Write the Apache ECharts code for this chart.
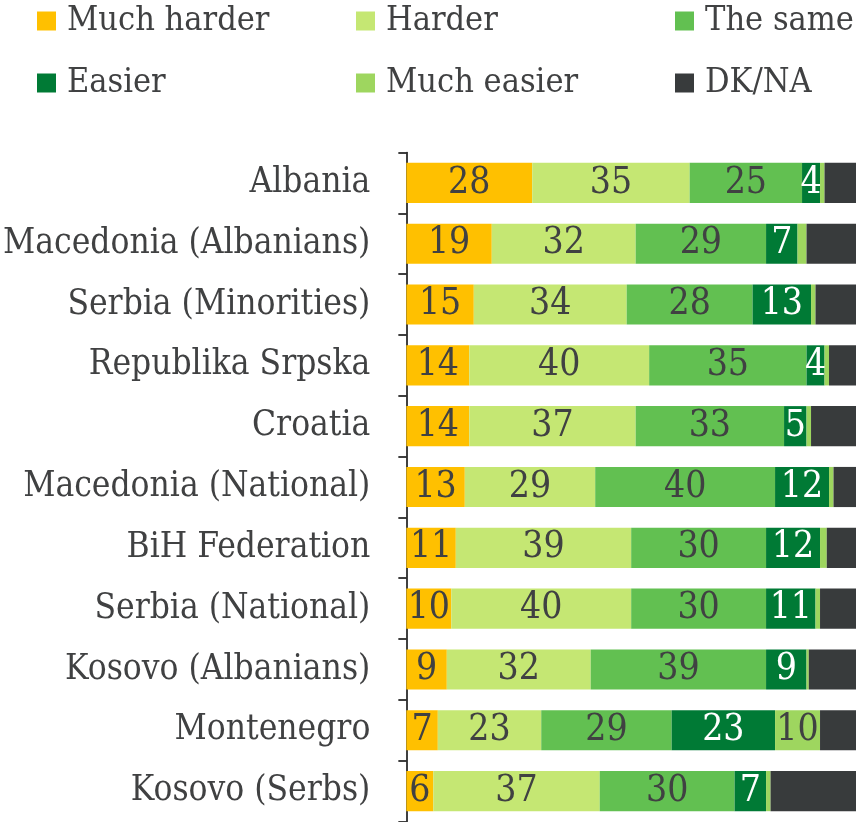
<!DOCTYPE html>
<html>
<head>
<meta charset="utf-8">
<script src="https://cdn.jsdelivr.net/npm/echarts@6/dist/echarts.min.js"></script>
<style>
html,body{margin:0;padding:0;background:#fff;}
#chart{width:856px;height:822px;}
</style>
</head>
<body>
<div id="chart"></div>
<script>
const categories = ["Albania","Macedonia (Albanians)","Serbia (Minorities)","Republika Srpska","Croatia","Macedonia (National)","BiH Federation","Serbia (National)","Kosovo (Albanians)","Montenegro","Kosovo (Serbs)"];
const muchHarder = [28,19,15,14,14,13,11,10,9,7,6];
const harder     = [35,32,34,40,37,29,39,40,32,23,37];
const theSame    = [25,29,28,35,33,40,30,30,39,29,30];
const easier     = [4,7,13,4,5,12,12,11,9,23,7];
const muchEasier = [1,2,1,1,1,1,1.5,1,0.5,10,1];
const dkna       = [7,11,9,6,10,5,7,8,10.5,8,19];

const FONT = "'DejaVu Serif Condensed','DejaVu Serif',serif";
const TXT = '#404142';

function ser(name, data, color, labelColor, showLabel){
  return {
    name: name, type: 'bar', stack: 'all', data: data,
    barCategoryGap: '34%',
    itemStyle: {color: color},
    label: {
      show: showLabel, position: 'inside', color: labelColor,
      fontFamily: FONT, fontSize: 37,
      formatter: p => (p.value >= 3 ? String(p.value) : '')
    }
  };
}

const chart = echarts.init(document.getElementById('chart'), null, {renderer:'canvas'});
const legendBase = {
  orient: 'vertical', top: 3, padding: 0, itemWidth: 19, itemHeight: 19, itemGap: 26,
  icon: 'rect', selectedMode: false,
  textStyle: {fontFamily: FONT, fontSize: 34, color: TXT, lineHeight: 36, padding: [0,0,0,6]}
};
chart.setOption({
  animation: false,
  legend: [
    Object.assign({}, legendBase, {left: 37, data: ['Much harder','Easier']}),
    Object.assign({}, legendBase, {left: 356, data: ['Harder','Much easier']}),
    Object.assign({}, legendBase, {left: 675, data: ['The same','DK/NA']})
  ],
  grid: {left: 402, right: 0, top: 152.5, bottom: 0.5, containLabel: false},
  xAxis: {type: 'value', min: 0, max: 100, show: false},
  yAxis: {
    type: 'category', data: categories, inverse: true,
    axisLine: {show: true, lineStyle: {color: '#000', width: 1.5}},
    axisTick: {show: true, length: 8, lineStyle: {color: '#000', width: 1.5}},
    axisLabel: {fontFamily: FONT, fontSize: 35, color: TXT, margin: 36}
  },
  series: [
    ser('Much harder', muchHarder, '#FFC000', TXT, true),
    ser('Harder', harder, '#C5E773', TXT, true),
    ser('The same', theSame, '#62C051', TXT, true),
    ser('Easier', easier, '#007A35', '#fff', true),
    ser('Much easier', muchEasier, '#9ED65F', TXT, true),
    ser('DK/NA', dkna, '#383B3C', '#fff', false)
  ]
});
</script>
</body>
</html>
